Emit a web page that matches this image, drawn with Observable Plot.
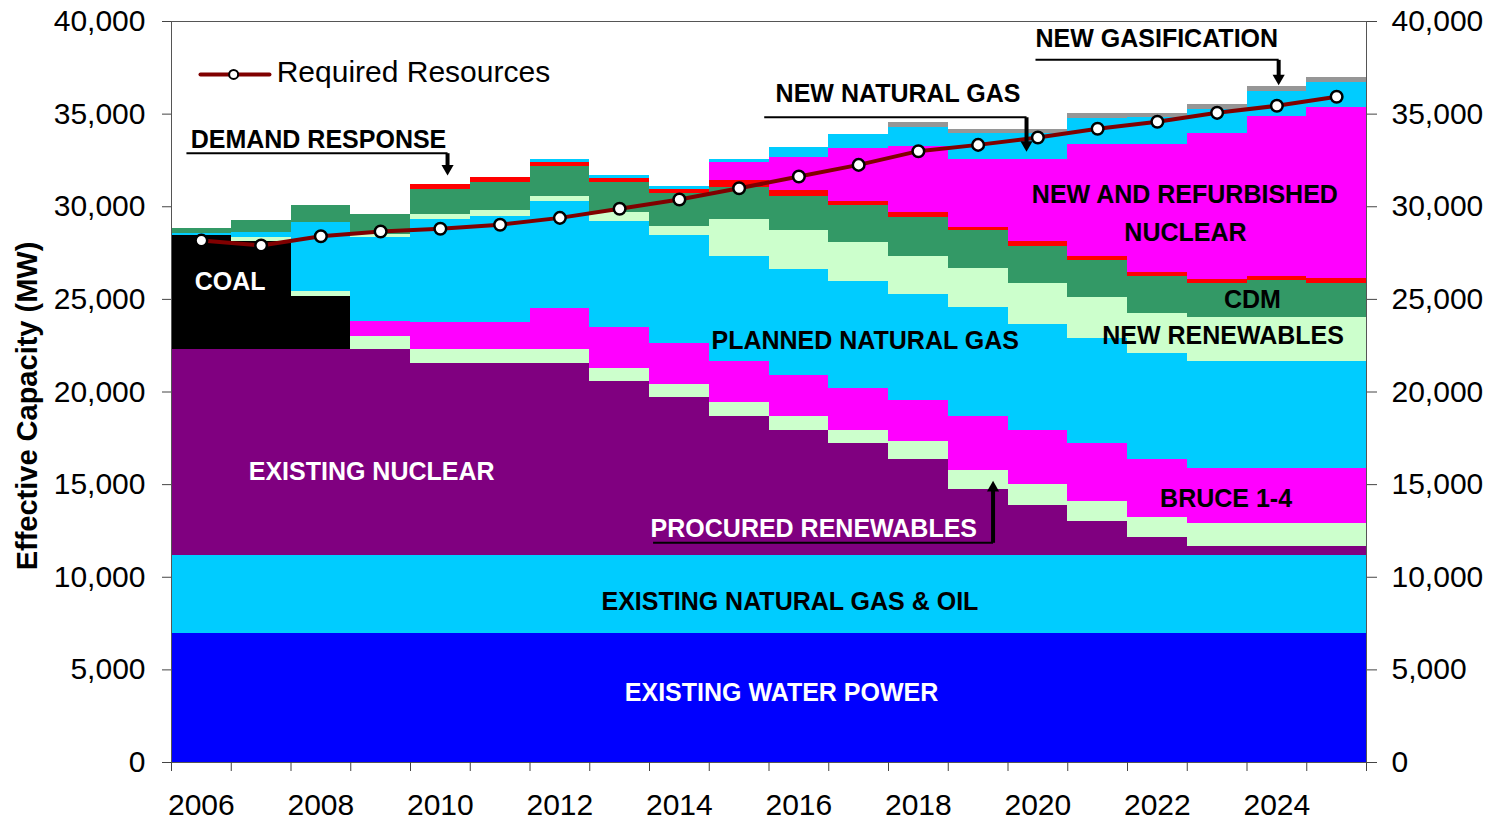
<!DOCTYPE html>
<html>
<head>
<meta charset="utf-8">
<script src="https://cdn.jsdelivr.net/npm/d3@7"></script>
<script src="https://cdn.jsdelivr.net/npm/@observablehq/plot@0.6"></script>
<style>
html, body { margin: 0; padding: 0; background: #fff; }
#chart { width: 1496px; height: 820px; }
</style>
</head>
<body>
<div id="chart"></div>
<script>
// ---------------- DATA ----------------
const years = [2006,2007,2008,2009,2010,2011,2012,2013,2014,2015,2016,2017,2018,2019,2020,2021,2022,2023,2024,2025];

const seriesNames = [
  "Existing Water Power", "Existing Natural Gas & Oil", "Existing Nuclear", "Coal",
  "Procured Renewables", "Bruce 1-4", "Planned Natural Gas", "New Renewables", "CDM",
  "Demand Response", "New and Refurbished Nuclear", "New Natural Gas", "New Gasification"
];

const existingWaterPower   = [6970,6970,6970,6970,6970,6970,6970,6970,6970,6970,6970,6970,6970,6970,6970,6970,6970,6970,6970,6970];
const existingGasOil       = [4200,4200,4200,4200,4200,4200,4200,4200,4200,4200,4200,4200,4200,4200,4200,4200,4200,4200,4200,4200];
const existingNuclear      = [11140,11140,11140,11140,10390,10390,10390,9410,8550,7520,6770,6070,5190,3580,2720,1840,980,490,490,490];
const coal                 = [6150,5790,2820,0,0,0,0,0,0,0,0,0,0,0,0,0,0,0,0,0];
const procuredRenewables   = [0,240,270,700,740,740,740,690,690,740,740,700,970,1030,1120,1080,1100,1260,1260,1260];
const bruce14              = [0,0,0,770,1470,1470,2230,2210,2200,2210,2210,2250,2230,2920,2920,3110,3110,2970,2970,2970];
const plannedNaturalGas    = [120,250,3760,4570,5560,5710,5760,5720,5850,5680,5720,5780,5720,5840,5720,5680,5700,5760,5760,5760];
const newRenewables        = [0,0,0,160,250,320,270,500,490,1980,2100,2100,2050,2100,2200,2200,2190,2380,2380,2380];
const cdm                  = [250,650,920,1080,1350,1510,1620,1620,1740,1740,1840,2000,2100,2080,2030,2010,2000,1840,1980,1840];
const demandResponse       = [0,0,0,0,270,270,220,220,250,360,320,220,250,180,220,220,220,220,220,270];
const newRefurbNuclear     = [0,0,0,0,0,0,0,0,0,970,1780,2880,3580,3640,4450,6050,6910,7840,8650,9200];
const newNaturalGas        = [0,0,0,0,0,0,160,150,160,160,540,740,1010,1400,1400,1420,1420,1330,1350,1370];
const newGasification      = [0,0,0,0,0,0,0,0,0,0,0,0,270,230,230,240,240,250,250,250];

const requiredResources    = [28180,27910,28410,28660,28810,29030,29400,29890,30390,31000,31630,32260,33000,33340,33740,34210,34590,35070,35450,35940];

const yTicks = [0,5000,10000,15000,20000,25000,30000,35000,40000];
const xLabelYears = [2006,2008,2010,2012,2014,2016,2018,2020,2022,2024];

// ---------------- STYLES / ANNOTATIONS ----------------
const seriesColors = [
  "#0000FF", "#00CCFF", "#800080", "#000000",
  "#CCFFCC", "#FF00FF", "#00CCFF", "#CCFFCC", "#339966",
  "#FF0000", "#FF00FF", "#00CCFF", "#969696"
];

const whiteLabels = [
  {text: "COAL", x: 2006.98, y: 25960},
  {text: "EXISTING NUCLEAR", x: 2009.35, y: 15700},
  {text: "EXISTING WATER POWER", x: 2016.21, y: 3725},
  {text: "PROCURED RENEWABLES", x: 2016.75, y: 12630}
];
const blackLabels = [
  {text: "PLANNED NATURAL GAS", x: 2017.61, y: 22730},
  {text: "NEW AND REFURBISHED", x: 2022.96, y: 30660},
  {text: "NUCLEAR", x: 2022.97, y: 28570},
  {text: "CDM", x: 2024.09, y: 24940},
  {text: "NEW RENEWABLES", x: 2023.6, y: 23000},
  {text: "BRUCE 1-4", x: 2023.65, y: 14250},
  {text: "EXISTING NATURAL GAS & OIL", x: 2016.35, y: 8640},
  {text: "DEMAND RESPONSE", x: 2008.46, y: 33630},
  {text: "NEW NATURAL GAS", x: 2018.16, y: 36060},
  {text: "NEW GASIFICATION", x: 2022.49, y: 39030}
];
// callouts: underline from x1 to x2 at y, then arrow at x2 pointing to tip
const callouts = [
  {x1: 2006.25, x2: 2010.62, y: 32890, shaftEnd: 32100, tip: 31580, dir: "down"},
  {x1: 2015.92, x2: 2020.31, y: 34830, shaftEnd: 33380, tip: 32860, dir: "down"},
  {x1: 2020.46, x2: 2024.53, y: 37930, shaftEnd: 36970, tip: 36450, dir: "down"},
  {x1: 2014.06, x2: 2019.75, y: 11860, shaftEnd: 14790, tip: 15310, dir: "up"}
];
const legendLine = [{x: 2006.485, y: 37140}, {x: 2007.64, y: 37140}];
const legendDot = [{x: 2007.04, y: 37140}];
const legendText = [{x: 2007.76, y: 37250, text: "Required Resources"}];

// ---------------- BUILD TABLES ----------------
const seriesValues = [
  existingWaterPower, existingGasOil, existingNuclear, coal, procuredRenewables, bruce14,
  plannedNaturalGas, newRenewables, cdm, demandResponse, newRefurbNuclear, newNaturalGas, newGasification
];
const table = [];
seriesNames.forEach((name, i) => {
  years.forEach((yr, j) => table.push({series: name, year: yr, value: seriesValues[i][j]}));
});
const required = years.map((yr, j) => ({year: yr, value: requiredResources[j]}));

const font = "'Liberation Sans', Arial, sans-serif";

const chart = Plot.plot({
  width: 1496,
  height: 820,
  marginTop: 21,
  marginBottom: 58,
  marginLeft: 171,
  marginRight: 130,
  style: {fontFamily: font, background: "white", color: "black"},
  x: {domain: [2006, 2026], axis: null},
  y: {domain: [0, 40000], axis: null},
  color: {domain: seriesNames, range: seriesColors},
  marks: [
    Plot.rectY(table, {
      x1: "year", x2: d => d.year + 1, y: "value",
      fill: "series", order: seriesNames, shapeRendering: "crispEdges"
    }),
    Plot.frame({stroke: "#555", strokeWidth: 1}),
    // axes
    Plot.axisY({anchor: "left", ticks: yTicks, tickSize: 9, tickPadding: 17,
      tickFormat: d3.format(","), fontSize: 30, label: null, stroke: "#444"}),
    Plot.axisY({anchor: "right", ticks: yTicks, tickSize: 10, tickPadding: 15,
      tickFormat: d3.format(","), fontSize: 30, label: null, stroke: "#444"}),
    Plot.axisX({ticks: d3.range(2006, 2027), tickSize: 9, tickFormat: () => "",
      label: null, stroke: "#444"}),
    Plot.axisX({ticks: xLabelYears.map(y => y + 0.5), tickSize: 0, tickPadding: 31,
      tickFormat: d => String(Math.round(d - 0.5)), fontSize: 30, label: null}),
    Plot.text(["Effective Capacity (MW)"], {frameAnchor: "left", textAnchor: "middle",
      dx: -144, dy: 14, rotate: -90, fontSize: 29, fontWeight: "bold"}),
    // required resources
    Plot.line(required, {x: d => d.year + 0.5, y: "value", stroke: "#800000", strokeWidth: 4}),
    Plot.dot(required, {x: d => d.year + 0.5, y: "value", r: 5.8, fill: "white",
      stroke: "black", strokeWidth: 2.5}),
    // legend
    Plot.line(legendLine, {x: "x", y: "y", stroke: "#800000", strokeWidth: 4}),
    Plot.dot(legendDot, {x: "x", y: "y", r: 4.5, fill: "white", stroke: "black", strokeWidth: 2}),
    Plot.text(legendText, {x: "x", y: "y", text: "text", textAnchor: "start", fontSize: 30}),
    // callouts
    Plot.link(callouts, {x1: "x1", x2: "x2", y1: "y", y2: "y", stroke: "black", strokeWidth: 2}),
    Plot.link(callouts, {x1: "x2", x2: "x2", y1: "y", y2: "shaftEnd", stroke: "black", strokeWidth: 4}),
    Plot.dot(callouts.filter(d => d.dir === "down"), {x: "x2", y: "tip", symbol: "triangle2",
      r: 5.8, fill: "black", rotate: 180, dy: -9}),
    Plot.dot(callouts.filter(d => d.dir === "up"), {x: "x2", y: "tip", symbol: "triangle2",
      r: 5.8, fill: "black", dy: 9}),
    // labels
    Plot.text(whiteLabels, {x: "x", y: "y", text: "text", fill: "white", fontSize: 25, fontWeight: "bold"}),
    Plot.text(blackLabels, {x: "x", y: "y", text: "text", fill: "black", fontSize: 25, fontWeight: "bold"})
  ]
});
document.getElementById("chart").appendChild(chart);
</script>
</body>
</html>
